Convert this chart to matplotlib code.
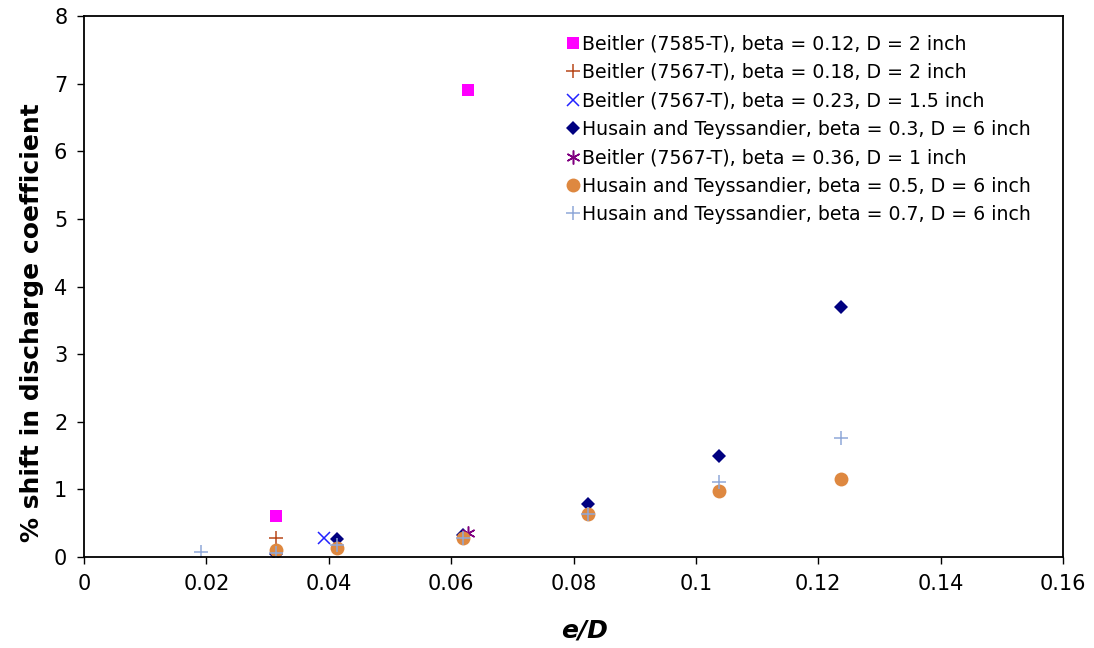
import matplotlib
matplotlib.use("Agg")
import matplotlib.pyplot as plt

# data (e/D, % shift)
b12_x = [0.0314, 0.0627]
b12_y = [0.60, 6.91]
b18_x = [0.0314]
b18_y = [0.28]
b23_x = [0.0392]
b23_y = [0.28]
h30_x = [0.0314, 0.0413, 0.0619, 0.0824, 0.1038, 0.1237]
h30_y = [0.04, 0.27, 0.33, 0.78, 1.49, 3.70]
b36_x = [0.0628]
b36_y = [0.35]
h50_x = [0.0314, 0.0413, 0.0619, 0.0824, 0.1038, 0.1237]
h50_y = [0.10, 0.13, 0.28, 0.64, 0.98, 1.16]
h70_x = [0.0191, 0.0314, 0.0413, 0.0619, 0.0824, 0.1038, 0.1237]
h70_y = [0.07, 0.06, 0.18, 0.28, 0.64, 1.11, 1.76]

xticks = [0, 0.02, 0.04, 0.06, 0.08, 0.1, 0.12, 0.14, 0.16]
xlabels = ["0", "0.02", "0.04", "0.06", "0.08", "0.1", "0.12", "0.14", "0.16"]

fig = plt.figure(figsize=(10.94, 6.48), dpi=100)
ax = fig.add_axes([0.0768, 0.1404, 0.8949, 0.8349])

ax.plot(b12_x, b12_y, 's', color='#FF00FF', ms=8, mew=0,
        label='Beitler (7585-T), beta = 0.12, D = 2 inch')
ax.plot(b18_x, b18_y, '+', color='#B8481A', ms=10, mew=1.1,
        label='Beitler (7567-T), beta = 0.18, D = 2 inch')
ax.plot(b23_x, b23_y, 'x', color='#2222FF', ms=9, mew=1.1,
        label='Beitler (7567-T), beta = 0.23, D = 1.5 inch')
ax.plot(h30_x, h30_y, 'D', color='#000080', ms=7.2, mew=0,
        label='Husain and Teyssandier, beta = 0.3, D = 6 inch')
ax.plot(b36_x, b36_y, marker=(6, 2, 0), ls='none', color='#800080', ms=10, mew=1.1,
        label='Beitler (7567-T), beta = 0.36, D = 1 inch')
ax.plot(h50_x, h50_y, 'o', color='#DE8840', ms=10, mew=0,
        label='Husain and Teyssandier, beta = 0.5, D = 6 inch')
ax.plot(h70_x, h70_y, '+', color='#90A8D8', ms=10, mew=1.1,
        label='Husain and Teyssandier, beta = 0.7, D = 6 inch')

ax.set_xlim(0, 0.16)
ax.set_ylim(0, 8)
ax.set_xticks(xticks)
ax.set_xticklabels(xlabels)
ax.set_yticks(range(0, 9))
ax.tick_params(labelsize=15, direction='out', length=5, width=1, pad=7)
for s in ax.spines.values():
    s.set_linewidth(1.3)

ax.set_xlabel('e/D', fontsize=18, fontweight='bold', fontstyle='italic')
ax.set_ylabel('% shift in discharge coefficient', fontsize=18, fontweight='bold')
ax.xaxis.set_label_coords(0.511, -0.113)
ax.yaxis.set_label_coords(-0.041, 0.434)

ax.legend(loc='upper left', bbox_to_anchor=(0.494, 0.966), frameon=False,
          fontsize=13.6, handlelength=0.6, handletextpad=0.15, labelspacing=0.5,
          borderaxespad=0, borderpad=0, markerscale=1.0)

fig.savefig('out.png', dpi=100)
